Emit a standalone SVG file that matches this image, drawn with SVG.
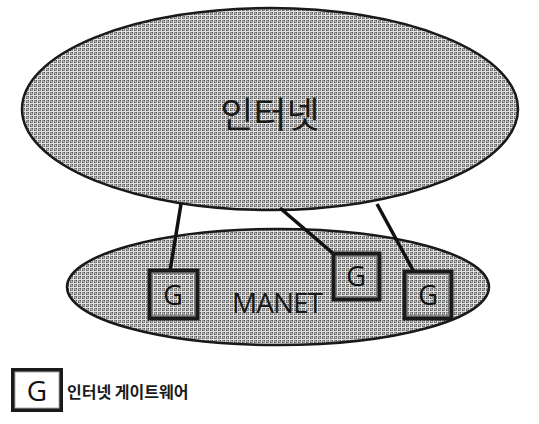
<svg xmlns="http://www.w3.org/2000/svg" width="539" height="424" viewBox="0 0 539 424">
<defs>
<pattern id="dither" width="4" height="4" patternUnits="userSpaceOnUse">
<rect width="4" height="4" fill="#8c8c8c"/>
<rect x="0" y="0" width="1" height="1" fill="#555"/>
<rect x="2" y="2" width="1" height="1" fill="#555"/>
<rect x="1" y="0" width="1" height="4" fill="#e2e2e2"/>
<rect x="0" y="3" width="4" height="1" fill="#e2e2e2"/>
<rect x="3" y="1" width="1" height="1" fill="#c4c4c4"/>
</pattern>
<style>
.cloud{fill:url(#dither);stroke:#1a1a1a;stroke-width:2.5}
.gbox{fill:url(#dither);stroke:#1a1a1a;stroke-width:5}
.ginner{fill:none;stroke:#9a9a9a;stroke-width:1}
.link{stroke:#111;stroke-width:3.5;fill:none}
.g{font-family:"Open Sans","DejaVu Sans",sans-serif;font-size:27px;fill:#111;text-anchor:middle}
.lbl{font-family:"Noto Sans CJK KR","Open Sans",sans-serif;fill:#1a1a1a}
</style>
</defs>
<g id="internet">
<ellipse class="cloud" cx="270" cy="109" rx="248" ry="101"/>
<text class="lbl" x="270" y="128" font-size="36" text-anchor="middle">인터넷</text>
</g>
<g id="manet">
<ellipse class="cloud" cx="278" cy="287" rx="211" ry="58"/>
<text x="277" y="313" text-anchor="middle" style="font-family:'Open Sans',sans-serif;font-size:28px;fill:#1a1a1a;letter-spacing:-1px">MANET</text>
</g>
<g id="connectors">
<line class="link" x1="181" y1="204" x2="170" y2="271"/>
<line class="link" x1="280" y1="208" x2="335" y2="255"/>
<line class="link" x1="377" y1="204" x2="414" y2="272"/>
</g>
<g id="gateway1">
<rect class="gbox" x="150" y="271" width="47" height="47"/>
<rect class="ginner" x="152" y="273" width="43" height="43"/>
<text class="g" x="173" y="305">G</text>
</g>
<g id="gateway2">
<rect class="gbox" x="334" y="254" width="45" height="45"/>
<rect class="ginner" x="336" y="256" width="41" height="41"/>
<text class="g" x="356" y="286">G</text>
</g>
<g id="gateway3">
<rect class="gbox" x="405" y="272" width="46" height="46"/>
<rect class="ginner" x="407" y="274" width="42" height="42"/>
<text class="g" x="428" y="305">G</text>
</g>
<g id="legend">
<rect x="13" y="370" width="48" height="40" fill="#fff" stroke="#1a1a1a" stroke-width="4"/>
<rect x="15" y="372" width="44" height="36" fill="none" stroke="#aaa" stroke-width="1"/>
<text class="g" x="37" y="401" style="font-size:28px">G</text>
<text class="lbl" x="67" y="398" font-size="16" font-weight="bold">인터넷 게이트웨어</text>
</g>
</svg>
